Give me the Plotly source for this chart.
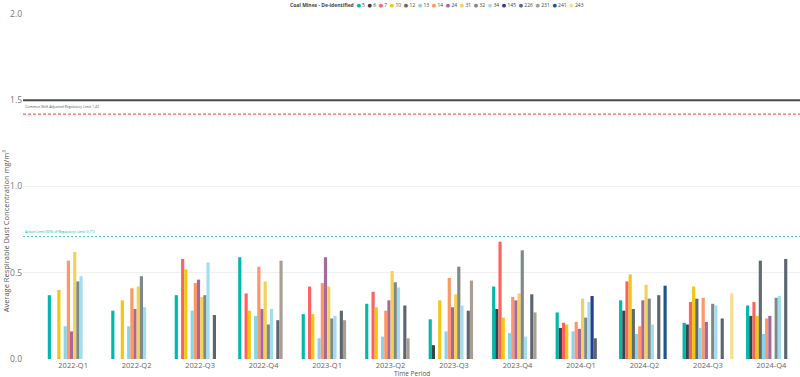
import plotly.graph_objects as go

quarters = ["2022-Q1", "2022-Q2", "2022-Q3", "2022-Q4", "2023-Q1", "2023-Q2",
            "2023-Q3", "2023-Q4", "2024-Q1", "2024-Q2", "2024-Q3", "2024-Q4"]

mine_ids = ["5", "6", "7", "10", "12", "13", "14", "24", "31", "32", "34",
            "145", "226", "231", "241", "243"]

s5 = [0.37, 0.28, 0.37, 0.59, 0.26, 0.32, 0.23, 0.42, 0.27, 0.34, 0.21, 0.31]
s6 = [None, None, None, None, None, None, 0.08, 0.29, 0.18, 0.28, 0.20, 0.25]
s7 = [None, None, 0.58, 0.38, 0.42, 0.39, None, 0.68, 0.21, 0.45, 0.33, 0.33]
s10 = [0.40, 0.34, 0.52, 0.28, 0.26, 0.30, 0.34, 0.24, 0.20, 0.49, 0.42, 0.25]
s12 = [None, None, None, None, None, None, None, None, None, 0.29, 0.35, 0.57]
s13 = [0.19, 0.19, 0.28, 0.25, 0.12, 0.13, 0.16, 0.15, 0.16, 0.145, 0.18, 0.145]
s14 = [0.57, 0.41, 0.44, 0.535, 0.44, 0.28, 0.47, 0.36, 0.215, 0.19, 0.355, 0.235]
s24 = [0.16, 0.29, 0.46, 0.29, 0.59, 0.34, 0.30, 0.34, 0.175, 0.34, 0.215, 0.25]
s31 = [0.62, 0.42, 0.36, 0.45, 0.42, 0.51, 0.375, 0.38, 0.35, 0.43, None, None]
s32 = [0.45, 0.48, 0.37, 0.20, 0.235, 0.445, 0.535, 0.63, 0.24, 0.35, 0.32, 0.355]
s34 = [0.48, 0.30, 0.56, 0.29, 0.25, 0.415, 0.31, 0.13, 0.33, 0.20, 0.31, 0.365]
s145 = [None, None, None, None, None, None, None, None, 0.365, None, None, None]
s226 = [None, None, 0.255, 0.225, 0.28, 0.31, 0.28, 0.375, 0.12, 0.37, 0.235, 0.58]
s231 = [None, None, None, 0.57, 0.225, 0.12, 0.455, 0.27, None, None, None, None]
s241 = [None, None, None, None, None, None, None, None, None, 0.425, None, None]
s243 = [None, None, None, None, None, None, None, None, None, None, 0.38, None]

colors = ["#01B8AA", "#374649", "#FD625E", "#F2C80F", "#5F6B6D", "#8AD4EB",
          "#FE9666", "#A66999", "#F4D25A", "#7F898A", "#A4DDEE", "#263F8C",
          "#5C6670", "#A89F94", "#1F558E", "#F6DE8D"]

reg_limit = 1.5
shift_limit = 1.42
action_limit = 0.71

series = [s5, s6, s7, s10, s12, s13, s14, s24, s31, s32, s34, s145, s226, s231, s241, s243]

FONT = "Segoe UI, Open Sans, DejaVu Sans, sans-serif"

fig = go.Figure()
for name, vals, col in zip(mine_ids, series, colors):
    fig.add_trace(go.Bar(x=quarters, y=vals, name=name, marker_color=col,
                         marker_line_width=0, showlegend=False))

fig.update_layout(
    width=800, height=377,
    margin=dict(l=23, r=0, t=14, b=18),
    paper_bgcolor="white", plot_bgcolor="white",
    barmode="group", bargap=0.2, bargroupgap=0,
    font=dict(family=FONT, color="#777777"),
    xaxis=dict(type="category", range=[-0.79, 11.45], showgrid=False,
               showline=False, zeroline=False, ticks="",
               tickfont=dict(size=7.5, color="#666666")),
    yaxis=dict(range=[0, 2], tickvals=[0, 0.5, 1.0, 1.5, 2.0],
               ticktext=["0.0", "0.5", "1.0", "1.5", "2.0"],
               showgrid=True, gridcolor="#F1F1F1", gridwidth=1,
               zeroline=False, showline=False, ticks="",
               tickfont=dict(size=8.5, color="#777777")),
)

# reference lines
fig.add_shape(type="line", xref="paper", x0=0, x1=1, yref="y", y0=reg_limit, y1=reg_limit,
              line=dict(color="#4A4A4A", width=2))
fig.add_shape(type="line", xref="paper", x0=0, x1=1, yref="y", y0=shift_limit, y1=shift_limit,
              line=dict(color="#FD625E", width=1.2, dash="3px,2px"))
fig.add_shape(type="line", xref="paper", x0=0, x1=1, yref="y", y0=action_limit, y1=action_limit,
              line=dict(color="#4FC8BE", width=1, dash="2px,2px"))

fig.add_annotation(xref="paper", x=0, yref="y", y=shift_limit, yshift=3,
                   xanchor="left", yanchor="bottom", showarrow=False,
                   text="Common Shift Adjusted Regulatory Limit 1.42",
                   font=dict(size=3.5, color="#555555", family=FONT))
fig.add_annotation(xref="paper", x=0, yref="y", y=action_limit, yshift=1,
                   xanchor="left", yanchor="bottom", showarrow=False,
                   text="Action Limit (50% of Regulatory Limit: 0.71)",
                   font=dict(size=3.5, color="#01B8AA", family=FONT))

# axis titles
fig.add_annotation(xref="paper", x=0, xshift=-17, yref="paper", y=0.37,
                   textangle=-90, showarrow=False, xanchor="center", yanchor="middle",
                   text="Average Respirable Dust Concentration mg/m³",
                   font=dict(size=7.5, color="#555555", family=FONT))
fig.add_annotation(xref="paper", x=0.5, xshift=0, yref="paper", y=0, yshift=-14,
                   showarrow=False, xanchor="center", yanchor="middle",
                   text="Time Period",
                   font=dict(size=6.5, color="#555555", family=FONT))

# legend as text
parts = ["<b>Coal Mines - De-identified</b>"]
for name, col in zip(mine_ids, colors):
    parts.append(f"<span style='color:{col}'>●</span> {name}")
fig.add_annotation(xref="paper", x=0.5, xshift=25, yref="paper", y=1, yshift=9,
                   showarrow=False, xanchor="center", yanchor="middle",
                   text="  ".join(parts),
                   font=dict(size=5, color="#444444", family=FONT))

fig.write_html("out.html")
